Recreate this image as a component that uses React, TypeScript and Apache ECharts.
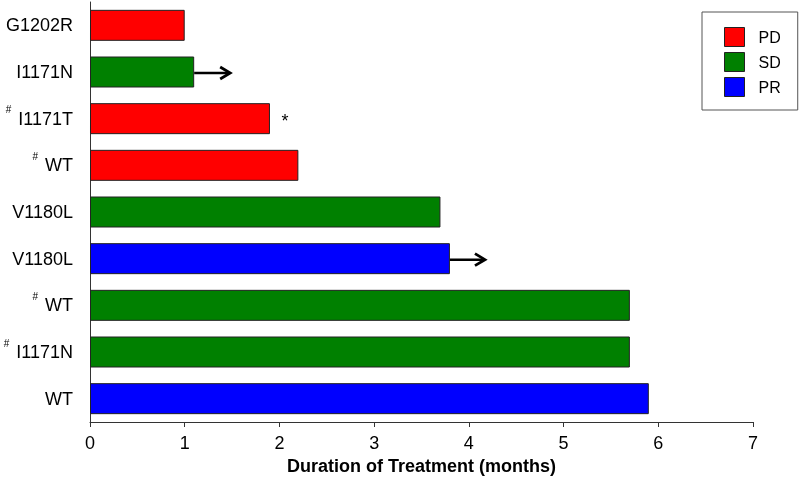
import React, { useEffect, useRef } from "react";
import * as echarts from "echarts";

const categories = ["G1202R", "I1171N", "#I1171T", "#WT", "V1180L", "V1180L", "#WT", "#I1171N", "WT"];
const durations = [1.0, 1.1, 1.9, 2.2, 3.7, 3.8, 5.7, 5.7, 5.9];
const responses = ["PD", "SD", "PD", "PD", "SD", "PR", "SD", "SD", "PR"];
const responseTypes = ["PD", "SD", "PR"];
const responseColors = ["#ff0000", "#008000", "#0000ff"];
const ongoingRows = [1, 5];
const ongoingArrowEnds = [1.48, 4.17];
const asteriskRows = [2];
const asteriskValues = [2.06];
const xTicks = [0, 1, 2, 3, 4, 5, 6, 7];

const FONT = "'Liberation Sans', Arial, Helvetica, sans-serif";

export default function App() {
  const ref = useRef<HTMLDivElement>(null);
  useEffect(() => {
    document.body.style.margin = "0";
    const chart = echarts.init(ref.current!, undefined, { renderer: "svg" });
    const barSeries = responseTypes.map((t, k) => ({
      name: t,
      type: "bar",
      stack: "dur",
      barWidth: 31,
      itemStyle: { color: responseColors[k], borderColor: "#222", borderWidth: 1 },
      data: durations.map((d, i) => (responses[i] === t ? d : "-")),
      z: 2,
    }));
    const option: any = {
      animation: false,
      textStyle: { fontFamily: FONT },
      grid: { left: 90, width: 663, top: 2, height: 420 },
      legend: {
        data: responseTypes,
        orient: "vertical",
        left: 702,
        top: 12,
        itemWidth: 20,
        itemHeight: 19,
        itemGap: 5,
        padding: [15, 17, 13, 22],
        borderColor: "#555",
        borderWidth: 1,
        icon: "rect",
        itemStyle: { borderColor: "#222", borderWidth: 1 },
        textStyle: { fontSize: 16, color: "#000", fontFamily: FONT, padding: [0, 0, 0, 9] },
        selectedMode: false,
      },
      xAxis: {
        type: "value",
        min: xTicks[0],
        max: xTicks[xTicks.length - 1],
        interval: 1,
        name: "Duration of Treatment (months)",
        nameLocation: "middle",
        nameGap: 35,
        nameTextStyle: { fontSize: 18, fontWeight: "bold", color: "#000", fontFamily: FONT },
        axisLine: { show: true, lineStyle: { color: "#333", width: 1 } },
        axisTick: { show: true, length: 5, lineStyle: { color: "#333" } },
        axisLabel: { fontSize: 18, color: "#000", margin: 12, fontFamily: FONT },
        splitLine: { show: false },
      },
      yAxis: {
        type: "category",
        data: categories,
        inverse: true,
        axisLine: { show: true, lineStyle: { color: "#333", width: 1 } },
        axisTick: { show: false },
        axisLabel: {
          margin: 17,
          color: "#000",
          formatter: (v: string) => (v.startsWith("#") ? `{sup|#}{main|${v.slice(1)}}` : `{main|${v}}`),
          rich: {
            main: { fontSize: 18, lineHeight: 28, color: "#000", fontFamily: FONT },
            sup: { fontSize: 10, lineHeight: 11, verticalAlign: "top", padding: [0, 7, 0, 0], color: "#000", fontFamily: FONT },
          },
        },
      },
      series: [
        ...barSeries,
        {
          type: "custom",
          name: "ongoing",
          z: 5,
          encode: { x: [0, 1], y: 2 },
          data: ongoingRows.map((r, k) => [durations[r], ongoingArrowEnds[k], r]),
          renderItem: (params: any, api: any) => {
            const s = api.coord([api.value(0), api.value(2)]);
            const e = api.coord([api.value(1), api.value(2)]);
            return {
              type: "group",
              children: [
                { type: "line", shape: { x1: s[0], y1: s[1] + 1, x2: e[0] - 1, y2: e[1] + 1 }, style: { stroke: "#000", lineWidth: 2.5 } },
                {
                  type: "polyline",
                  shape: { points: [[e[0] - 10, e[1] - 5], [e[0], e[1] + 1], [e[0] - 10, e[1] + 7]] },
                  style: { stroke: "#000", lineWidth: 2.8, fill: "none" },
                },
              ],
            };
          },
        },
        {
          type: "custom",
          name: "note",
          z: 5,
          encode: { x: 0, y: 1 },
          data: asteriskRows.map((r, k) => [asteriskValues[k], r]),
          renderItem: (params: any, api: any) => {
            const p = api.coord([api.value(0), api.value(1)]);
            return {
              type: "text",
              x: p[0],
              y: p[1] + 2,
              style: { text: "*", fontSize: 18, fill: "#000", align: "center", verticalAlign: "middle", fontFamily: FONT },
            };
          },
        },
      ],
    };
    chart.setOption(option);
    return () => chart.dispose();
  }, []);
  return <div ref={ref} style={{ position: "fixed", left: 0, top: 0, width: 800, height: 481 }} />;
}
